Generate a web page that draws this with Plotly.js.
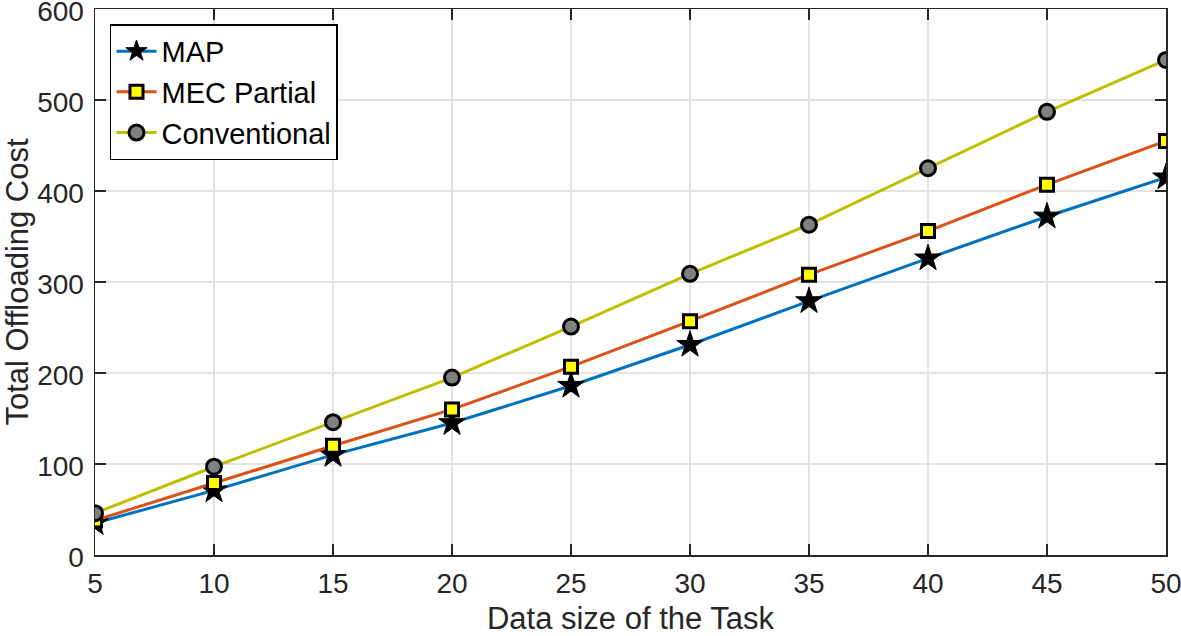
<!DOCTYPE html>
<html>
<head>
<meta charset="utf-8">
<script src="https://cdn.plot.ly/plotly-3.0.1.min.js"></script>
<style>html,body{margin:0;padding:0;background:#fff;}#chart{width:1181px;height:636px;}</style>
</head>
<body>
<div id="chart"></div>
<script>
const dataSize = [5, 10, 15, 20, 25, 30, 35, 40, 45, 50];
const mapCost = [35, 71, 110, 145, 186, 231, 279, 326, 372, 415];
const mecPartialCost = [38, 79, 120, 160, 207, 257, 308, 356, 407, 455];
const conventionalCost = [46, 97, 146, 195, 251, 309, 363, 425, 487, 544];
const seriesNames = ["MAP", "MEC Partial", "Conventional"];
const yTicks = [0, 100, 200, 300, 400, 500, 600];

const font = "Liberation Sans, Arial, Helvetica, sans-serif";
const traces = [
  {x: dataSize, y: mapCost, name: seriesNames[0], mode: "lines+markers",
   line: {color: "#0072BD", width: 3},
   marker: {symbol: "star", size: 20, color: "#000000", line: {color: "#000000", width: 1}}},
  {x: dataSize, y: mecPartialCost, name: seriesNames[1], mode: "lines+markers",
   line: {color: "#D95319", width: 3},
   marker: {symbol: "square", size: 13, color: "#FFFF00", line: {color: "#000000", width: 3}}},
  {x: dataSize, y: conventionalCost, name: seriesNames[2], mode: "lines+markers",
   line: {color: "#BFBF00", width: 3},
   marker: {symbol: "circle", size: 15, color: "#808080", line: {color: "#000000", width: 3}}}
];
const axisCommon = {
  showline: true, linecolor: "#262626", linewidth: 1.5, mirror: "ticks",
  ticks: "inside", ticklen: 11, tickcolor: "#262626", tickwidth: 1.5,
  showgrid: true, gridcolor: "#E3E3E3", gridwidth: 1.5, zeroline: false,
  ticklabeloverflow: "allow",
  tickfont: {family: font, size: 28, color: "#262626"}
};
const layout = {
  width: 1181, height: 636,
  margin: {l: 95, r: 15, t: 9, b: 81},
  paper_bgcolor: "#ffffff", plot_bgcolor: "#ffffff",
  showlegend: true,
  xaxis: Object.assign({}, axisCommon, {
    range: [5, 50], tickvals: dataSize, ticklabelstandoff: 3,
    title: {text: "Data size of the Task", font: {family: font, size: 31, color: "#262626"}, standoff: 13}
  }),
  yaxis: Object.assign({}, axisCommon, {
    range: [0, 600], tickvals: yTicks, ticklabelstandoff: 4, ticklabelshift: 2,
    title: {text: "Total Offloading Cost", font: {family: font, size: 31, color: "#262626"}, standoff: 10}
  }),
  legend: {
    x: 0.014, y: 0.972, xanchor: "left", yanchor: "top",
    bgcolor: "#ffffff", bordercolor: "#000000", borderwidth: 1.5,
    font: {family: font, size: 29, color: "#000000"},
    tracegroupgap: 0, itemwidth: 40
  }
};
Plotly.newPlot("chart", traces, layout, {displayModeBar: false, staticPlot: true});
</script>
</body>
</html>
